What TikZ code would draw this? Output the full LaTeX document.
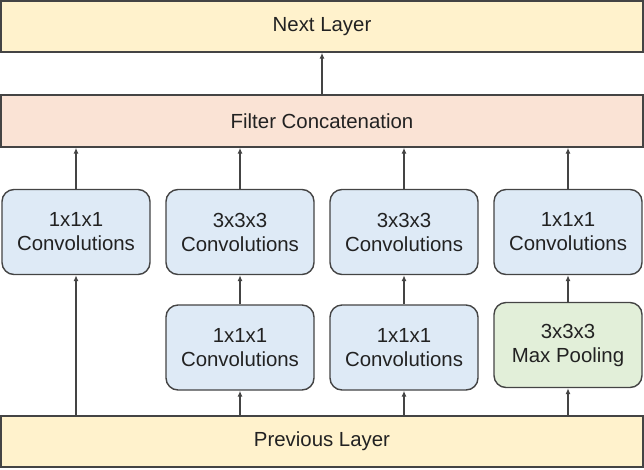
\documentclass[tikz,border=0pt]{standalone}
\usepackage{fontspec}
\setmainfont{Liberation Sans}
\usetikzlibrary{arrows.meta}
\definecolor{edge}{HTML}{444444}
\definecolor{txt}{HTML}{222222}
\definecolor{yel}{HTML}{FFF2CC}
\definecolor{pnk}{HTML}{FAE3D5}
\definecolor{blu}{HTML}{DEEAF6}
\definecolor{grn}{HTML}{E2EFD9}
\begin{document}
\begin{tikzpicture}[x=1pt,y=-1pt,
  layerbox/.style={draw=edge,line width=1.4pt,minimum width=642pt,inner sep=0pt,text=txt,font=\fontsize{20.4}{24}\selectfont},
  opbox/.style={draw=edge,line width=1.4pt,rounded corners=12pt,minimum width=148pt,minimum height=85pt,inner sep=0pt,align=center,text=txt,font=\fontsize{20.4}{24}\selectfont},
  arr/.style={draw=edge,line width=1.2pt,-{Latex[length=6pt,width=5pt]}}]
\useasboundingbox (0,0) rectangle (644,469);
\node[layerbox,fill=yel,minimum height=51pt] (next) at (322,26.5) {Next Layer};
\node[layerbox,fill=pnk,minimum height=52pt] (filt) at (322,121) {Filter Concatenation};
\node[layerbox,fill=yel,minimum height=51pt] (prev) at (322,441.5) {Previous Layer};
\node[opbox,fill=blu] (a1) at (76,232) {1x1x1\\Convolutions};
\node[opbox,fill=blu] (b1) at (240,232) {3x3x3\\Convolutions};
\node[opbox,fill=blu] (c1) at (404,232) {3x3x3\\Convolutions};
\node[opbox,fill=blu] (d1) at (568,232) {1x1x1\\Convolutions};
\node[opbox,fill=blu] (b2) at (240,347.5) {1x1x1\\Convolutions};
\node[opbox,fill=blu] (c2) at (404,347.5) {1x1x1\\Convolutions};
\node[opbox,fill=grn] (d2) at (568,345) {3x3x3\\Max Pooling};
\draw[arr] (filt.north) -- (next.south);
\draw[arr] (prev.north -| a1.south) -- (a1.south);
\foreach \n in {b,c,d}{
  \draw[arr] (prev.north -| \n2.south) -- (\n2.south);
  \draw[arr] (\n2.north) -- (\n1.south);
}
\foreach \n in {a,b,c,d}{
  \draw[arr] (\n1.north) -- (filt.south -| \n1.north);
}
\end{tikzpicture}
\end{document}
